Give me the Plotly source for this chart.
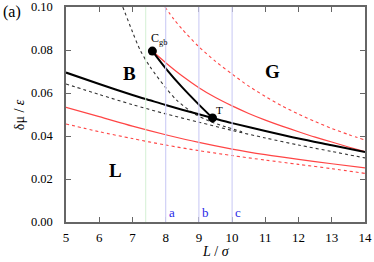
import plotly.graph_objects as go

# ---- data ----
black_solid_L = [5.0, 6.0, 7.0, 7.53, 8.0, 9.0, 9.41, 10.0, 11.0, 12.0, 13.0, 14.0]
black_solid_y = [0.0695, 0.0642, 0.0591, 0.0566, 0.0544, 0.0501, 0.0484, 0.0460, 0.0423, 0.0388, 0.0357, 0.0326]

cgb_T_L = [7.6, 8.0, 8.5, 9.0, 9.41]
cgb_T_y = [0.0795, 0.0715, 0.0626, 0.0546, 0.0484]

black_dot_L = [5.0, 6.0, 7.0, 8.0, 9.0, 10.0, 11.0, 12.0, 13.0, 14.0]
black_dot_y = [0.0642, 0.0593, 0.0546, 0.0503, 0.0464, 0.0426, 0.0391, 0.0358, 0.0328, 0.0298]

spin_dot_L = [6.71, 7.0, 7.23, 7.53, 8.0, 8.33, 8.85, 9.3, 9.8, 10.3]
spin_dot_y = [0.100, 0.0885, 0.080, 0.0722, 0.0625, 0.0567, 0.0505, 0.0470, 0.0443, 0.0420]

red_up_L = [7.6, 8.0, 8.5, 9.0, 9.5, 10.0, 10.5, 11.0, 11.5, 12.0, 12.5, 13.0, 13.5, 14.0]
red_up_y = [0.0795, 0.0741, 0.0679, 0.0625, 0.0579, 0.0540, 0.0505, 0.0474, 0.0446, 0.0420, 0.0395, 0.0372, 0.0349, 0.0327]

red_up_dot_L = [7.98, 8.25, 8.5, 9.0, 9.5, 10.0, 10.5, 11.0, 11.5, 12.0, 12.5, 13.0, 13.5, 14.0]
red_up_dot_y = [0.100, 0.0943, 0.0896, 0.0815, 0.0747, 0.0688, 0.0632, 0.0584, 0.0540, 0.0502, 0.0467, 0.0435, 0.0407, 0.0381]

red_lo_L = [5.0, 6.0, 7.0, 8.0, 9.0, 10.0, 11.0, 12.0, 13.0, 14.0]
red_lo_y = [0.0533, 0.0490, 0.0446, 0.0406, 0.0370, 0.0339, 0.0313, 0.0291, 0.0271, 0.0252]

red_lo_dot_L = [5.0, 6.0, 7.0, 8.0, 9.0, 10.0, 11.0, 12.0, 13.0, 14.0]
red_lo_dot_y = [0.0456, 0.0420, 0.0388, 0.0358, 0.0332, 0.0309, 0.0288, 0.0268, 0.0248, 0.0226]

points_L = [7.6, 9.41]
points_y = [0.0795, 0.0484]

green_line_L = [7.4]
blue_lines_L = [8.0, 9.0, 10.0]
blue_labels = ["a", "b", "c"]

x_ticks = [5, 6, 7, 8, 9, 10, 11, 12, 13, 14]
y_ticks = [0.00, 0.02, 0.04, 0.06, 0.08, 0.10]
y_tick_text = ["0.00", "0.02", "0.04", "0.06", "0.08", "0.10"]

FONT = "Liberation Serif, Times New Roman, serif"
RED = "#ff4545"

fig = go.Figure()

for x in green_line_L:
    fig.add_vline(x=x, line=dict(color="#d4f0d4", width=1))
for x in blue_lines_L:
    fig.add_vline(x=x, line=dict(color="#d0d0f6", width=1.2))

def line(x, y, color, width, dash="solid"):
    fig.add_trace(go.Scatter(x=x, y=y, mode="lines",
                             line=dict(color=color, width=width, dash=dash, shape="spline", smoothing=0.8),
                             showlegend=False, hoverinfo="skip"))

line(red_lo_dot_L, red_lo_dot_y, RED, 1.1, "dot")
line(red_lo_L, red_lo_y, RED, 1.2)
line(red_up_dot_L, red_up_dot_y, RED, 1.1, "dot")
line(black_dot_L, black_dot_y, "#333333", 1.1, "dot")
line(spin_dot_L, spin_dot_y, "#333333", 1.1, "dot")
line(red_up_L, red_up_y, RED, 1.2)
line(black_solid_L, black_solid_y, "black", 2)
line(cgb_T_L, cgb_T_y, "black", 2)

fig.add_trace(go.Scatter(x=points_L, y=points_y, mode="markers",
                         marker=dict(color="black", size=9), showlegend=False, hoverinfo="skip"))

# annotations
fig.add_annotation(x=7.6, y=0.0795, text="C<sub>gb</sub>", showarrow=False,
                   xanchor="left", yanchor="bottom", xshift=-3, yshift=2,
                   font=dict(family=FONT, size=12, color="black"))
fig.add_annotation(x=9.41, y=0.0484, text="T", showarrow=False,
                   xanchor="left", yanchor="bottom", xshift=1, yshift=0,
                   font=dict(family=FONT, size=11, color="black"))
for txt, x, y in [("B", 6.9, 0.069), ("G", 11.23, 0.0698), ("L", 6.48, 0.024)]:
    fig.add_annotation(x=x, y=y, text="<b>%s</b>" % txt, showarrow=False,
                       font=dict(family=FONT, size=19, color="black"))
for lab, x in zip(blue_labels, blue_lines_L):
    fig.add_annotation(x=x, y=0.0045, text=lab, showarrow=False, xanchor="left", xshift=1,
                       font=dict(family=FONT, size=13, color="#2828e8"))
fig.add_annotation(xref="paper", yref="paper", x=-0.218, y=1.03, text="(a)", showarrow=False,
                   xanchor="left", yanchor="top", font=dict(family=FONT, size=16, color="black"))
fig.add_annotation(xref="paper", yref="paper", x=0.5, y=-0.182, text="<i>L</i> / <i>σ</i>",
                   showarrow=False, xanchor="center", yanchor="bottom",
                   font=dict(family=FONT, size=14, color="black"))
fig.add_annotation(xref="paper", yref="paper", x=-0.155, y=0.5, text="δμ / <i>ε</i>", textangle=-90,
                   showarrow=False, xanchor="center", yanchor="middle",
                   font=dict(family=FONT, size=14, color="black"))

axis_common = dict(showgrid=False, zeroline=False, showline=True, linecolor="#666666", linewidth=1.5,
                   mirror="ticks", ticks="inside", ticklen=5, tickcolor="#666666", automargin=False)

fig.update_xaxes(range=[5, 14], tickvals=x_ticks, ticklabelstandoff=3,
                 tickfont=dict(family=FONT, size=13, color="black"), **axis_common)
fig.update_yaxes(range=[0, 0.10], tickvals=y_ticks, ticktext=y_tick_text, ticklabelstandoff=9,
                 tickfont=dict(family=FONT, size=12.5, color="black"), **axis_common)

fig.update_layout(width=374, height=262, margin=dict(l=66, r=9, t=7, b=40, autoexpand=False),
                  plot_bgcolor="white", paper_bgcolor="white", font=dict(family=FONT))

fig.write_html("out.html", config={"displayModeBar": False},
               post_script="document.body.style.margin='0';document.body.style.padding='0';")
